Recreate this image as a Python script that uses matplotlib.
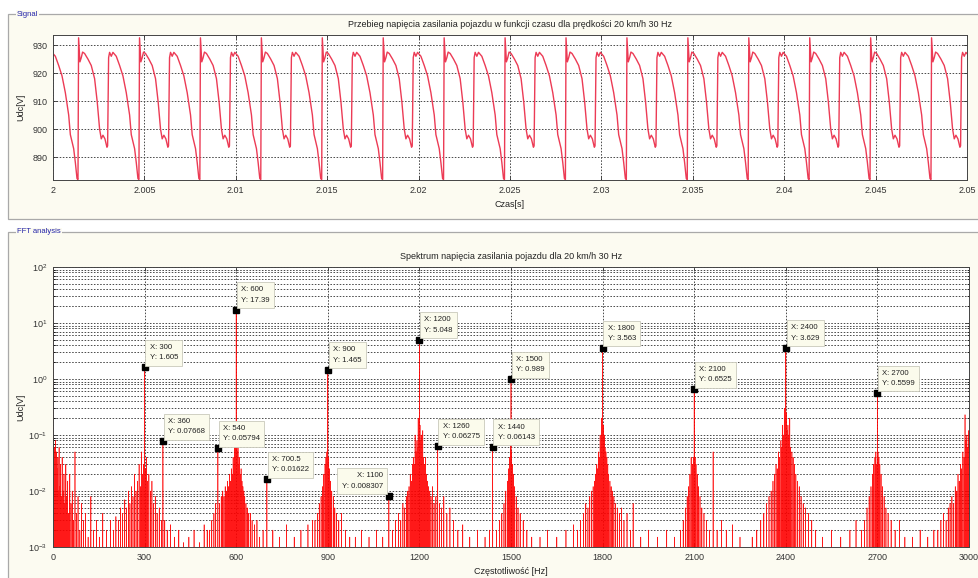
import matplotlib
matplotlib.use('Agg')
import matplotlib.pyplot as plt
import numpy as np
from matplotlib.patches import Rectangle

plt.rcParams['font.family'] = ['Liberation Sans', 'DejaVu Sans']

# --- signal: one period of the supply voltage (offset ms from the big spike, value V)
period_ms = [0.0, 0.073, 0.146, 0.219, 0.328, 0.511, 0.693, 0.876, 1.021, 1.149, 1.240, 1.332,
             1.441, 1.550, 1.587, 1.642, 1.696, 1.788, 1.879, 2.061, 2.244, 2.426, 2.608, 2.791,
             2.882, 2.973, 3.064, 3.156, 3.247, 3.300]
period_v = [932.6, 924.0, 925.5, 927.5, 927.0, 925.0, 922.7, 918.0, 909.6, 900.0, 896.5, 897.8,
            896.5, 893.5, 894.0, 925.5, 927.4, 926.0, 927.4, 926.0, 922.7, 919.0, 913.0, 905.0,
            898.0, 895.5, 893.0, 888.0, 882.3, 882.0]
first_spike = 2.0014
period_s = 0.003333
n_periods = 16

# --- FFT: marked data tips
tip_f = [300, 600, 900, 1200, 1500, 1800, 2100, 2400, 2700, 360, 540, 700.5, 1100, 1260, 1440]
tip_a = [1.605, 17.39, 1.465, 5.048, 0.989, 3.563, 0.6525, 3.629, 0.5599,
         0.07668, 0.05794, 0.01622, 0.008307, 0.06275, 0.06143]
tip_txt = ['X: 300\nY: 1.605', 'X: 600\nY: 17.39', 'X: 900\nY: 1.465', 'X: 1200\nY: 5.048',
           'X: 1500\nY: 0.989', 'X: 1800\nY: 3.563', 'X: 2100\nY: 0.6525', 'X: 2400\nY: 3.629',
           'X: 2700\nY: 0.5599', 'X: 360\nY: 0.07668', 'X: 540\nY: 0.05794', 'X: 700.5\nY: 0.01622',
           'X: 1100\nY: 0.008307', 'X: 1260\nY: 0.06275', 'X: 1440\nY: 0.06143']
dc_value = 918.0

# --- FFT: side-band / noise spikes (Hz, V)
noise_f = [1.5, 3, 4.5, 6, 8, 10, 12, 14, 16, 18, 20, 22.5, 25, 27.5, 30, 33, 36, 39, 42, 45, 48, 51,
           55, 59, 63, 67, 72, 77, 82, 88, 94, 100, 107, 115, 124, 133, 142, 152, 163, 175, 188,
           198, 206, 214, 221, 228, 235, 241, 247, 252, 257, 262, 267, 272, 277, 282, 286, 290, 294,
           297, 303, 306, 310, 314, 319, 324, 329, 335, 341, 348, 355, 366, 374, 385, 398, 412, 428,
           445, 462, 480, 495, 505,
           512, 520, 527, 533, 546, 551, 556, 560, 564, 568, 572, 575, 578, 581, 584, 587, 590, 592,
           594, 596, 598, 602, 604, 606, 608, 610, 613, 616, 619, 622, 625, 628, 632, 636, 641, 646,
           652, 660, 668, 677, 688,
           720, 742, 765, 790, 812, 835, 850,
           858, 866, 872, 878, 883, 887, 891, 894, 897, 903, 906, 909, 913, 918, 923, 929, 936, 945,
           958, 972, 990, 1010, 1035, 1060, 1080,
           1112, 1122, 1131, 1139, 1146, 1152, 1157, 1162, 1166, 1170, 1174, 1177, 1180, 1183, 1186,
           1189, 1192, 1194, 1196, 1198, 1202, 1204, 1206, 1208, 1211, 1214, 1217, 1220, 1223, 1226,
           1230, 1234, 1238, 1243, 1248, 1254, 1266, 1272, 1280, 1290, 1300, 1312, 1326, 1342,
           1365, 1390, 1415, 1430,
           1452, 1462, 1470, 1477, 1483, 1488, 1492, 1495, 1498, 1502, 1505, 1508, 1512, 1517, 1523,
           1530, 1540, 1552, 1568, 1595, 1620, 1650, 1680, 1705,
           1718, 1728, 1737, 1745, 1752, 1758, 1764, 1769, 1773, 1777, 1781, 1784, 1787, 1790, 1792,
           1794, 1796, 1798, 1802, 1804, 1806, 1808, 1811, 1814, 1817, 1820, 1824, 1828, 1832, 1837,
           1842, 1848, 1855, 1862, 1870, 1880, 1892, 1900, 1925, 1950, 1980, 2010, 2035,
           2055, 2064, 2071, 2077, 2082, 2086, 2090, 2094, 2097, 2103, 2106, 2110, 2114, 2119, 2125,
           2132, 2140, 2150, 2162, 2175, 2190, 2205, 2225, 2250,
           2290, 2305, 2318, 2328, 2337, 2345, 2352, 2358, 2363, 2368, 2372, 2376, 2380, 2384, 2387,
           2390, 2393, 2396, 2398, 2402, 2404, 2407, 2410, 2413, 2416, 2420, 2424, 2428, 2433, 2438,
           2444, 2450, 2457, 2465, 2474, 2485, 2498, 2520, 2550, 2580, 2610, 2630,
           2648, 2658, 2666, 2673, 2679, 2684, 2688, 2692, 2695, 2698, 2702, 2705, 2708, 2712, 2717,
           2722, 2728, 2735, 2745, 2758, 2772, 2790, 2815, 2840, 2865, 2885,
           2898, 2908, 2917, 2925, 2932, 2938, 2944, 2950, 2955, 2960, 2964, 2968, 2972, 2976, 2980,
           2984, 2987, 2990, 2993, 2996, 2999]
noise_a = [0.09, 0.03, 0.06, 0.02, 0.08, 0.015, 0.05, 0.025, 0.04, 0.01, 0.06, 0.012, 0.03, 0.008,
           0.04, 0.01, 0.02, 0.006, 0.03, 0.008, 0.015, 0.004, 0.02, 0.006, 0.01, 0.003, 0.05, 0.004,
           0.008, 0.002, 0.006, 0.003, 0.004, 0.0015, 0.008, 0.002, 0.003, 0.0015, 0.004, 0.002, 0.003,
           0.002, 0.0035, 0.003, 0.005, 0.004, 0.007, 0.005, 0.01, 0.006, 0.012, 0.008, 0.02, 0.01,
           0.015, 0.03, 0.012, 0.05, 0.02, 0.03, 0.025, 0.04, 0.015, 0.02, 0.01, 0.015, 0.006, 0.008,
           0.004, 0.005, 0.003, 0.003, 0.002, 0.0025, 0.0015, 0.002, 0.0012,
           0.0015, 0.002, 0.0012, 0.0025, 0.002,
           0.002, 0.003, 0.004, 0.006, 0.006, 0.008, 0.01, 0.008, 0.012, 0.01, 0.015, 0.012, 0.02,
           0.015, 0.025, 0.02, 0.04, 0.03, 0.06, 0.05, 0.1, 0.08, 0.05, 0.06, 0.03, 0.04, 0.02, 0.025,
           0.015, 0.012, 0.01, 0.008, 0.006, 0.005, 0.004, 0.004, 0.003, 0.0025, 0.003, 0.0015, 0.002,
           0.002, 0.0015, 0.0025, 0.0015, 0.002, 0.0025, 0.003,
           0.003, 0.004, 0.006, 0.008, 0.012, 0.02, 0.03, 0.04, 0.05, 0.04, 0.025, 0.015, 0.01, 0.008,
           0.005, 0.004, 0.003, 0.004, 0.002, 0.0015, 0.0015, 0.002, 0.0015, 0.002, 0.0015,
           0.002, 0.003, 0.004, 0.003, 0.006, 0.005, 0.008, 0.01, 0.012, 0.02, 0.015, 0.03, 0.04, 0.03,
           0.1, 0.05, 0.08, 0.06, 0.2, 0.1, 0.15, 0.08, 0.1, 0.05, 0.12, 0.04, 0.03, 0.04, 0.02, 0.015,
           0.012, 0.01, 0.008, 0.012, 0.006, 0.008, 0.006, 0.005, 0.008, 0.004, 0.005, 0.003, 0.002,
           0.0025, 0.0015, 0.002, 0.0015, 0.002,
           0.002, 0.003, 0.004, 0.006, 0.01, 0.015, 0.025, 0.04, 0.08, 0.05, 0.03, 0.02, 0.012, 0.008,
           0.005, 0.004, 0.003, 0.002, 0.0015, 0.0015, 0.002, 0.0015, 0.002, 0.0025,
           0.002, 0.003, 0.004, 0.006, 0.005, 0.008, 0.01, 0.012, 0.015, 0.02, 0.03, 0.025, 0.05, 0.04,
           0.1, 0.06, 0.2, 0.12, 0.15, 0.08, 0.1, 0.06, 0.05, 0.04, 0.03, 0.02, 0.015, 0.012, 0.01,
           0.008, 0.006, 0.005, 0.004, 0.005, 0.003, 0.004, 0.002, 0.006, 0.0015, 0.002, 0.0015, 0.002,
           0.0015,
           0.002, 0.003, 0.005, 0.008, 0.012, 0.02, 0.04, 0.03, 0.04, 0.04, 0.03, 0.02, 0.012, 0.008,
           0.005, 0.004, 0.003, 0.002, 0.05, 0.002, 0.003, 0.002, 0.0025, 0.0015,
           0.0015, 0.002, 0.003, 0.004, 0.006, 0.008, 0.01, 0.015, 0.02, 0.03, 0.025, 0.05, 0.04, 0.08,
           0.06, 0.15, 0.1, 0.3, 0.15, 0.25, 0.12, 0.15, 0.1, 0.2, 0.06, 0.05, 0.04, 0.03, 0.02, 0.015,
           0.012, 0.008, 0.006, 0.005, 0.004, 0.003, 0.002, 0.0015, 0.002, 0.0015, 0.002, 0.003,
           0.002, 0.003, 0.005, 0.008, 0.012, 0.02, 0.03, 0.04, 0.05, 0.03, 0.05, 0.04, 0.03, 0.02,
           0.012, 0.008, 0.005, 0.004, 0.003, 0.002, 0.003, 0.0015, 0.0015, 0.002, 0.0015, 0.002,
           0.002, 0.003, 0.004, 0.003, 0.005, 0.006, 0.008, 0.006, 0.012, 0.01, 0.02, 0.015, 0.03,
           0.025, 0.05, 0.04, 0.23, 0.08, 0.1, 0.06, 0.12]

time_ticks = [2, 2.005, 2.01, 2.015, 2.02, 2.025, 2.03, 2.035, 2.04, 2.045, 2.05]
time_labels = ['2', '2.005', '2.01', '2.015', '2.02', '2.025', '2.03', '2.035', '2.04', '2.045', '2.05']
volt_ticks = [890, 900, 910, 920, 930]
freq_ticks = [0, 300, 600, 900, 1200, 1500, 1800, 2100, 2400, 2700, 3000]

W, H = 979, 578
panel_bg = '#fcfbf1'
sig_red = '#ec3b55'
fs = 6.5

fig = plt.figure(figsize=(W / 100, H / 100), dpi=100, facecolor='white')

def px_rect(x0, y0, x1, y1):
    return [x0 / W, 1 - y1 / H, (x1 - x0) / W, (y1 - y0) / H]

# GUI panels
for (x0, y0, x1, y1), name in [((8, 14, 1000, 219), 'Signal'), ((8, 232, 1000, 600), 'FFT analysis')]:
    l, b, w, h = px_rect(x0, y0, x1, y1)
    fig.patches.append(Rectangle((l, b), w, h, transform=fig.transFigure, fc=panel_bg,
                                 ec='#a9a9a9', lw=0.9, zorder=-10))
    fig.text(17 / W, 1 - y0 / H, name, color='#2424a8', fontsize=5.5, va='center', ha='left',
             bbox=dict(fc=panel_bg, ec='none', pad=0.6), zorder=-5)

def style_axes(ax):
    ax.set_facecolor('white')
    ax.tick_params(direction='in', top=True, right=True, labelsize=fs, length=3, width=0.6,
                   colors='#333333', pad=4)
    ax.tick_params(which='minor', direction='in', top=True, right=True, length=1.8, width=0.5)
    for s in ax.spines.values():
        s.set_color('#444444')
        s.set_linewidth(0.7)

grid_kw = dict(color='#4a4a4a', linestyle=(0, (1.6, 1.6)), linewidth=0.7)

# ---------------- time signal
ax1 = fig.add_axes(px_rect(53, 35, 967, 180))
t_all, v_all = [], []
for k in range(-1, n_periods):
    t_all.extend(first_spike + k * period_s + np.array(period_ms) / 1000.0)
    v_all.extend(period_v)
ax1.plot(t_all, v_all, color=sig_red, lw=1.0)
ax1.set_xlim(2, 2.05)
ax1.set_ylim(881.8, 933.6)
ax1.set_xticks(time_ticks)
ax1.set_xticklabels(time_labels)
ax1.set_yticks(volt_ticks)
style_axes(ax1)
ax1.grid(True, **grid_kw)
ax1.set_title('Przebieg napięcia zasilania pojazdu w funkcji czasu dla prędkości 20 km/h 30 Hz',
              fontsize=fs, pad=6, color='#222222')
ax1.set_xlabel('Czas[s]', fontsize=fs, labelpad=4, color='#222222')
ax1.set_ylabel('Udc[V]', fontsize=fs, color='#222222')
ax1.yaxis.set_label_coords(-28 / 914, 0.5)

# ---------------- spectrum
freq = np.arange(0, 3000.5, 0.5)
spec = np.full(freq.size, 1e-5)
spec[0] = dc_value
spec[1] = dc_value
for f, a in zip(noise_f + tip_f, noise_a + tip_a):
    i = int(round(f * 2))
    spec[i] = max(spec[i], a)

ax2 = fig.add_axes(px_rect(53, 267, 969, 547))
ax2.semilogy(freq, spec, color='#ff0000', lw=0.45, alpha=0.9)
ax2.set_xlim(0, 3000)
ax2.set_ylim(1e-3, 1e2)
ax2.set_xticks(freq_ticks)
style_axes(ax2)
ax2.grid(True, which='major', **grid_kw)
ax2.grid(True, which='minor', axis='y', **grid_kw)
ax2.set_title('Spektrum napięcia zasilania pojazdu dla 20 km/h 30 Hz', fontsize=fs, pad=6,
              color='#222222')
ax2.set_xlabel('Częstotliwość [Hz]', fontsize=fs, labelpad=4, color='#222222')
ax2.set_ylabel('Udc[V]', fontsize=fs, color='#222222')
ax2.yaxis.set_label_coords(-28 / 916, 0.5)

ax2.plot(tip_f, tip_a, 's', color='black', ms=4.5, zorder=5)
for f, a, txt in zip(tip_f, tip_a, tip_txt):
    left = f == 1100
    ax2.annotate(txt, (f, a), xytext=(-6 if left else 5, 6), textcoords='offset pixels',
                 ha='right' if left else 'left', va='bottom', fontsize=5.6, color='#222222',
                 linespacing=1.65,
                 bbox=dict(boxstyle='square,pad=0.55', fc='#fbfbec', ec='#c9c9bb', lw=0.6),
                 zorder=6)

fig.savefig('out.png', dpi=100, facecolor='white')
